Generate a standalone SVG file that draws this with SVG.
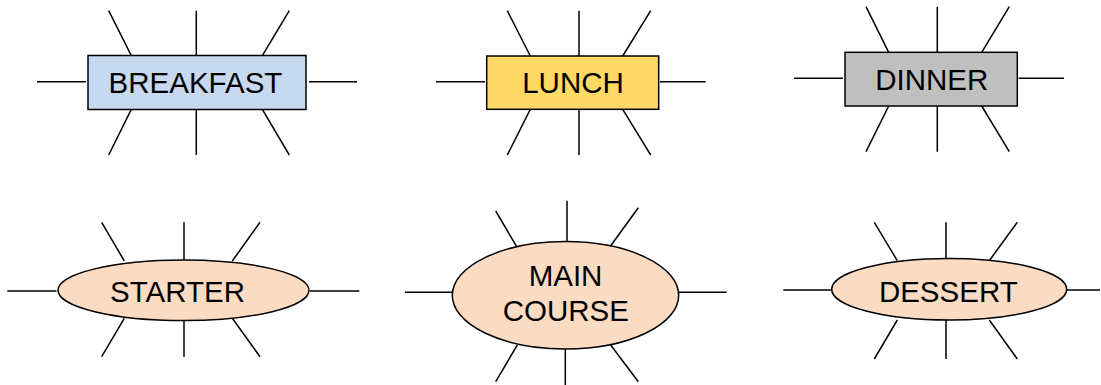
<svg xmlns="http://www.w3.org/2000/svg" width="1101" height="385" viewBox="0 0 1101 385">
  <style>
    .ray { stroke: #000; stroke-width: 1.5; fill: none; }
    .box { stroke: #000; stroke-width: 1.5; }
    .oval { fill: #fbdcc3; stroke: #000; stroke-width: 1.5; }
    .lbl { font-family: "Liberation Sans", Arial, sans-serif; font-size: 29.5px; fill: #000; text-anchor: middle; }
  </style>
  <rect width="1101" height="385" fill="#fff"/>

  <!-- rays radiating from each meal -->
  <g id="rays" class="ray">
    <!-- breakfast -->
    <path d="M37 81.7H86M309 81.7H357M196.3 10.7V55.7M196.3 109.3V155M108.7 10.7L131.3 55.7M289.3 10.7L262.3 55.7M131.3 109.3L108.7 155M262.3 109.3L289.3 155"/>
    <!-- lunch -->
    <path d="M436 81.7H485M660 81.7H705.7M579 10.7V56M579 109.3V155M507.3 10.7L530.3 56M650.7 10.7L622.7 56M530.3 109.3L507.3 155M622.7 109.3L650.7 155"/>
    <!-- dinner -->
    <path d="M794 78.3H843M1018.7 78.3H1064M937.3 6.7V52.3M937.3 106V151.7M866 6.7L888.7 52.3M1009.3 6.7L981.7 52.3M888.7 106L866 151.7M981.7 106L1009.3 151.7"/>
    <!-- starter -->
    <path d="M7.3 291H56.5M310 291H359.3M184 222.3V260M184 320.5V356.7M101.7 222.3L124.3 261M260 222.3L232.3 261M124.3 318.3L101.7 356.7M232.3 318.3L260 356.7"/>
    <!-- main course -->
    <path d="M405 292.3H452M679 292.3H726.7M567 200.7V241.7M565.3 349V385M495.7 211L517.3 247.7M638.3 207.7L610.7 245.7M517.3 345L495.7 381.7M610.7 345L638.3 381.7"/>
    <!-- dessert -->
    <path d="M783.3 290H831.7M1066.7 290H1100M946 222.3V258.3M946 320V359M874.3 222.3L897.3 260.7M1017.3 222.3L989.3 260.7M897.3 320L874.3 359M989.3 320L1017.3 359"/>
  </g>

  <g id="breakfast">
    <rect class="box" x="88" y="55.5" width="218" height="54" fill="#c6d9f0"/>
    <text class="lbl" x="195.5" y="92.7">BREAKFAST</text>
  </g>
  <g id="lunch">
    <rect class="box" x="486.7" y="56" width="172" height="53.3" fill="#ffd966"/>
    <text class="lbl" x="573" y="92.7">LUNCH</text>
  </g>
  <g id="dinner">
    <rect class="box" x="845" y="52.3" width="172.3" height="53.7" fill="#bfbfbf"/>
    <text class="lbl" x="931.7" y="90">DINNER</text>
  </g>
  <g id="starter">
    <ellipse class="oval" cx="183.5" cy="290.3" rx="125.5" ry="30.3"/>
    <text class="lbl" x="177.5" y="302">STARTER</text>
  </g>
  <g id="main-course">
    <ellipse class="oval" cx="565.5" cy="295.3" rx="113.2" ry="53.7"/>
    <text class="lbl" x="565.5" y="285.7">MAIN</text>
    <text class="lbl" x="565.8" y="321">COURSE</text>
  </g>
  <g id="dessert">
    <ellipse class="oval" cx="949.2" cy="289.2" rx="117.5" ry="30.8"/>
    <text class="lbl" x="948.3" y="301.7">DESSERT</text>
  </g>
</svg>
